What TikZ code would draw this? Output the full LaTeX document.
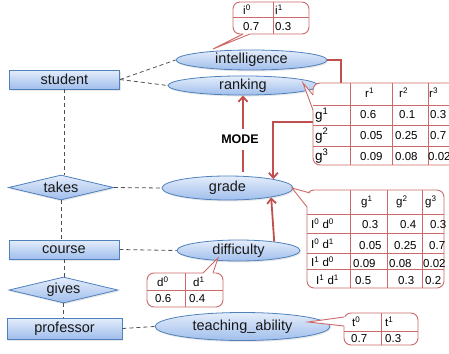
\documentclass[tikz,border=0pt]{standalone}
\usepackage{fontspec}
\setmainfont{Liberation Sans}
\usetikzlibrary{shapes.geometric,arrows.meta,shadows,calc}
\definecolor{bltop}{RGB}{228,237,251}
\definecolor{blbot}{RGB}{160,190,236}
\definecolor{bldraw}{RGB}{79,129,189}
\definecolor{redline}{RGB}{192,80,77}
\definecolor{tblred}{RGB}{205,105,105}
\definecolor{dashgray}{RGB}{80,80,80}
\definecolor{txt}{RGB}{25,25,25}
\begin{document}
\begin{tikzpicture}[x=1pt,y=-1pt,
  shapebase/.style={draw=bldraw, line width=0.8pt, top color=bltop, bottom color=blbot,
    inner sep=0pt, font=\fontsize{14.5}{16}\selectfont, text=txt,
    drop shadow={opacity=0.18, shadow xshift=1pt, shadow yshift=-1.5pt}},
  ent/.style={shapebase, rectangle},
  attr/.style={shapebase, ellipse},
  rel/.style={shapebase, diamond, shape aspect=4.2},
  conn/.style={dashgray, line width=0.8pt, dash pattern=on 4pt off 3pt},
  cpt/.style={redline, line width=1.8pt, -{Straight Barb[length=5pt,width=9pt]}},
  tbl/.style={draw=tblred, fill=white, line width=0.9pt, rounded corners=7pt},
  tblgrid/.style={tblred, line width=0.7pt},
  tcell/.style={anchor=west, inner sep=0pt, font=\fontsize{11.5}{13}\selectfont, text=black},
  tlab/.style={anchor=west, inner sep=0pt, font=\fontsize{13.5}{15}\selectfont, text=black},
  modelab/.style={fill=white, inner xsep=1pt, inner ysep=6pt, font=\bfseries\fontsize{12.5}{14}\selectfont, text=black}
]
\path[use as bounding box] (0,0) rectangle (449,353);
\clip (0,0) rectangle (449,353);

% entities, relations, attributes
\node[ent, minimum width=110pt, minimum height=19pt] (student) at (64.5,79.5) {student};
\node[ent, minimum width=110pt, minimum height=19pt] (course) at (64,249.5) {course};
\node[ent, minimum width=115pt, minimum height=21pt] (professor) at (64.5,328.5) {professor};
\node[rel, minimum width=105pt, minimum height=25pt] (takes) at (61,187.5) {takes};
\node[rel, minimum width=109pt, minimum height=26pt] (gives) at (63.5,290) {gives};
\node[attr, minimum width=151pt, minimum height=20pt] (intelligence) at (251.5,60) {intelligence};
\node[attr, minimum width=150pt, minimum height=19pt] (ranking) at (243,85.5) {ranking};
\node[attr, minimum width=131pt, minimum height=24pt] (grade) at (227.5,188) {grade};
\node[attr, minimum width=123pt, minimum height=21pt] (difficulty) at (238.5,250.5) {difficulty};
\node[attr, minimum width=175pt, minimum height=28pt] (teaching) at (242.5,326.5) {teaching\_ability};

% dashed connectors
\draw[conn] (student.east) -- (intelligence.west);
\draw[conn] (student.east) -- (ranking.west);
\draw[conn] (student.south) -- (student.south |- takes.north);
\draw[conn] (takes.south) -- (takes.south |- course.north);
\draw[conn] (course.south) -- (course.south |- gives.north);
\draw[conn] (gives.south) -- (gives.south |- professor.north);
\draw[conn] (takes.east) -- (grade.west);
\draw[conn] (course.east) -- (difficulty.west);
\draw[conn] (professor.east) -- (teaching.west);

% red dependency arrows
\coordinate (bend) at (341,122);
\draw[cpt] (intelligence.east) -| (bend) -| (grade.11);
\draw[cpt] (difficulty.14) -- (grade.-12);
\draw[cpt] ($(ranking.south |- grade.north)+(0,-4)$) -- (ranking.south);
\node[modelab] (mode) at (240,139.5) {MODE};

% table i
\draw[tbl] (233,2) rectangle (309,34);
\fill[white] (243,34) -- (213,49) -- (250,34) -- (250,32) -- (243,32) -- cycle;
\draw[tblred, line width=0.9pt, line join=miter] (243,34) -- (213,49) -- (250,34);
\draw[tblgrid] (273,2) -- (273,34);
\draw[tblgrid] (233,17) -- (309,17);
\node[tcell] (i0) at (243,9.5) {i\textsuperscript{0}};
\node[tcell] (i1) at (275,9.5) {i\textsuperscript{1}};
\node[tcell] (i0v) at (243,26.5) {0.7};
\node[tcell] (i1v) at (275,26.5) {0.3};

% table r
\draw[tbl] (313,83) rectangle (480,165);
\fill[white] (313,95) -- (303,83) -- (313,110) -- (315,110) -- (315,95) -- cycle;
\draw[tblred, line width=0.9pt] (313,95) -- (303,83) -- (313,110);
\draw[tblgrid] (350,83) -- (350,165);
\draw[tblgrid] (392,83) -- (392,165);
\draw[tblgrid] (428,83) -- (428,165);
\draw[tblgrid] (313,105) -- (480,105);
\draw[tblgrid] (313,125) -- (480,125);
\draw[tblgrid] (313,146) -- (480,146);
\node[tcell] (r1) at (365,93) {r\textsuperscript{1}};
\node[tcell] (r2) at (399,93) {r\textsuperscript{2}};
\node[tcell] (r3) at (429,93) {r\textsuperscript{3}};
\node[tlab] (rg1) at (315,115) {g\textsuperscript{1}};
\node[tlab] (rg2) at (315,135.5) {g\textsuperscript{2}};
\node[tlab] (rg3) at (315,156) {g\textsuperscript{3}};
\node[tcell] (r11) at (360,115) {0.6};
\node[tcell] (r12) at (399,115) {0.1};
\node[tcell] (r13) at (430,115) {0.3};
\node[tcell] (r21) at (360,136) {0.05};
\node[tcell] (r22) at (395,136) {0.25};
\node[tcell] (r23) at (430,136) {0.7};
\node[tcell] (r31) at (360,156.5) {0.09};
\node[tcell] (r32) at (395,156.5) {0.08};
\node[tcell] (r33) at (428,156.5) {0.02};

% table g
\draw[tbl] (307,190) rectangle (444,288);
\fill[white] (310,193) -- (292,188) -- (307,207) -- (309.5,207) -- (311.5,195) -- cycle;
\draw[tblred, line width=0.9pt] (310,193) -- (292,188) -- (307,207);
\draw[tblgrid] (350,190) -- (350,288);
\draw[tblgrid] (387,190) -- (387,288);
\draw[tblgrid] (422,190) -- (422,288);
\draw[tblgrid] (307,214) -- (444,214);
\draw[tblgrid] (307,233) -- (444,233);
\draw[tblgrid] (307,253) -- (444,253);
\draw[tblgrid] (307,269) -- (444,269);
\node[tcell] (g1) at (361,202) {g\textsuperscript{1}};
\node[tcell] (g2) at (396,202) {g\textsuperscript{2}};
\node[tcell] (g3) at (425,202) {g\textsuperscript{3}};
\node[tcell] (l00) at (311,224) {I\textsuperscript{0} d\textsuperscript{0}};
\node[tcell] (l01) at (311,244) {I\textsuperscript{0} d\textsuperscript{1}};
\node[tcell] (l10) at (311,262) {I\textsuperscript{1} d\textsuperscript{0}};
\node[tcell] (l11) at (316,280) {I\textsuperscript{1} d\textsuperscript{1}};
\node[tcell] (v11) at (362,225) {0.3};
\node[tcell] (v12) at (400,225) {0.4};
\node[tcell] (v13) at (430,225) {0.3};
\node[tcell] (v21) at (359,245.5) {0.05};
\node[tcell] (v22) at (394,245.5) {0.25};
\node[tcell] (v23) at (429,245.5) {0.7};
\node[tcell] (v31) at (353,264) {0.09};
\node[tcell] (v32) at (389,264) {0.08};
\node[tcell] (v33) at (423,264) {0.02};
\node[tcell] (v41) at (355,281) {0.5};
\node[tcell] (v42) at (398,281) {0.3};
\node[tcell] (v43) at (425,281) {0.2};

% table d
\draw[tbl] (147,273) rectangle (223,307);
\fill[white] (203,273) -- (218,258) -- (213,273) -- (213,275) -- (203,275) -- cycle;
\draw[tblred, line width=0.9pt] (203,273) -- (218,258) -- (213,273);
\draw[tblgrid] (185,273) -- (185,307);
\draw[tblgrid] (147,290) -- (223,290);
\node[tcell] (d0) at (157,281.5) {d\textsuperscript{0}};
\node[tcell] (d1) at (193,281.5) {d\textsuperscript{1}};
\node[tcell] (d0v) at (155,298.5) {0.6};
\node[tcell] (d1v) at (189,298.5) {0.4};

% table t
\draw[tbl] (344,313) rectangle (418,345);
\fill[white] (344,317) -- (308,322) -- (344,326) -- (346,326) -- (346,317) -- cycle;
\draw[tblred, line width=0.9pt] (344,317) -- (308,322) -- (344,326);
\draw[tblgrid] (381,313) -- (381,345);
\draw[tblgrid] (344,331) -- (418,331);
\node[tcell] (t0) at (352,322) {t\textsuperscript{0}};
\node[tcell] (t1) at (385,322) {t\textsuperscript{1}};
\node[tcell] (t0v) at (351,338.5) {0.7};
\node[tcell] (t1v) at (385,338.5) {0.3};
\end{tikzpicture}
\end{document}
